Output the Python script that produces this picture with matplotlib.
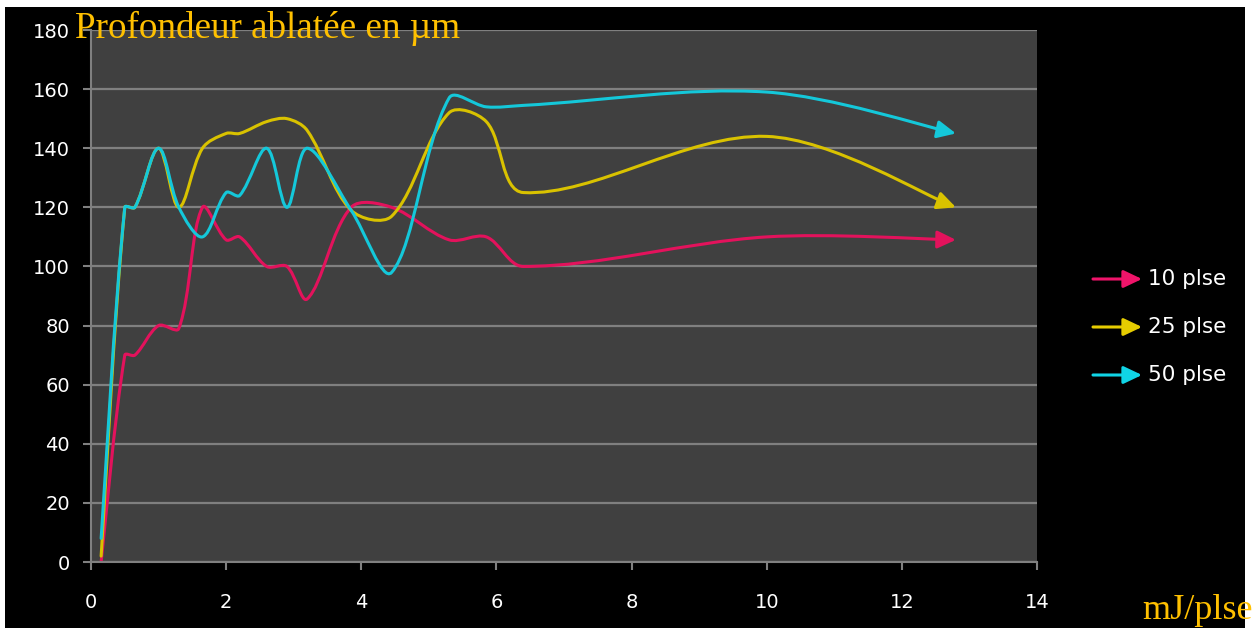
import matplotlib
matplotlib.use("Agg")
import matplotlib.pyplot as plt
from matplotlib.path import Path
from matplotlib.patches import FancyArrowPatch, Rectangle
import numpy as np

# ---- data ----
energy = [0.15, 0.5, 0.65, 1.0, 1.3, 1.65, 2.0, 2.2, 2.6, 2.9, 3.2, 3.85, 4.45, 5.3, 5.85, 6.4, 10.0, 12.8]
depth_10 = [0, 70, 70, 80, 79, 120, 109, 110, 100, 100, 89, 120, 120, 109, 110, 100, 110, 109]
depth_25 = [2, 120, 120, 140, 120, 140, 145, 145, 149, 150, 146, 119, 117, 152, 149, 125, 144, 120]
depth_50 = [8, 120, 120, 140, 120, 110, 125, 124, 140, 120, 140, 119, 98, 157, 154, 154.5, 159, 145]
series_labels = ["10 plse", "25 plse", "50 plse"]
series_colors = ["#E3125C", "#D9C200", "#14C8DA"]
legend_colors = ["#F0146A", "#E6CC00", "#10D4E6"]
x_ticks = [0, 2, 4, 6, 8, 10, 12, 14]
y_ticks = [0, 20, 40, 60, 80, 100, 120, 140, 160, 180]
title_text = "Profondeur ablatée en µm"
unit_text = "mJ/plse"

W, H = 1258, 628
fig = plt.figure(figsize=(W / 100, H / 100), dpi=100, facecolor="white")
fig.add_artist(Rectangle((5 / W, 0), 1240 / W, 621 / H, transform=fig.transFigure,
                         facecolor="black", edgecolor="none", zorder=-10))

ax = fig.add_axes([91 / W, (H - 562) / H, (1037 - 91) / W, (562 - 30) / H])
ax.set_facecolor("#404040")
ax.set_xlim(0, 14)
ax.set_ylim(0, 180)
ax.set_xticks(x_ticks)
ax.set_yticks(y_ticks)
for s in ["top", "right"]:
    ax.spines[s].set_visible(False)
for s in ["left", "bottom"]:
    ax.spines[s].set_color("#808080")
    ax.spines[s].set_linewidth(1.5)
ax.tick_params(axis="both", colors="#808080", width=1.5, length=6, direction="out",
               labelcolor="white", labelsize=14)
ax.tick_params(axis="x", pad=16)
ax.tick_params(axis="y", pad=9)
ax.yaxis.grid(True, color="#808080", linewidth=1.6)
ax.set_axisbelow(True)


def smooth_path(xs, ys):
    """Excel-like smoothed line: Bezier segments through the data points,
    tangent lengths weighted by the on-screen segment lengths."""
    pts = np.column_stack([xs, ys]).astype(float)
    disp = ax.transData.transform(pts)
    n = len(pts)
    seg = np.hypot(*np.diff(disp, axis=0).T)
    verts = [pts[0]]
    codes = [Path.MOVETO]
    for i in range(n - 1):
        p0 = pts[i - 1] if i > 0 else pts[i]
        p1 = pts[i]
        p2 = pts[i + 1]
        p3 = pts[i + 2] if i + 2 < n else pts[i + 1]
        l01 = seg[i - 1] if i > 0 else seg[i]
        l12 = seg[i]
        l23 = seg[i + 1] if i + 1 < n - 1 else seg[i]
        c1 = p1 + (p2 - p0) * (l12 / (l01 + l12)) / 3.0
        c2 = p2 - (p3 - p1) * (l12 / (l12 + l23)) / 3.0
        verts += [c1, c2, p2]
        codes += [Path.CURVE4] * 3
    return Path(np.array(verts), codes)


for ys, col in zip([depth_10, depth_25, depth_50], series_colors):
    arr = FancyArrowPatch(path=smooth_path(energy, ys),
                          arrowstyle="-|>,head_length=0.8,head_width=0.38",
                          mutation_scale=14, transform=ax.transData,
                          color=col, linewidth=2.2, joinstyle="round",
                          capstyle="round")
    ax.add_patch(arr)

# titles
fig.text(75 / W, (H - 38) / H, title_text, family="Liberation Serif", fontsize=26.7,
         color="#FFC000", ha="left", va="baseline")
fig.text(1142 / W, (H - 619) / H, unit_text, family="Liberation Serif", fontsize=26,
         color="#FFC000", ha="left", va="baseline")

# legend
for k, (lab, col) in enumerate(zip(series_labels, legend_colors)):
    yp = (H - (279 + 48 * k)) / H
    fig.add_artist(FancyArrowPatch((1093 / W, yp), (1142 / W, yp),
                                   transform=fig.transFigure,
                                   arrowstyle="-|>,head_length=0.8,head_width=0.38",
                                   mutation_scale=14, color=col, linewidth=2.2,
                                   shrinkA=0, shrinkB=0))
    fig.text(1148 / W, yp, lab, color="white", fontsize=15.5, ha="left", va="center")

fig.savefig("out.png", dpi=100, facecolor=fig.get_facecolor())
